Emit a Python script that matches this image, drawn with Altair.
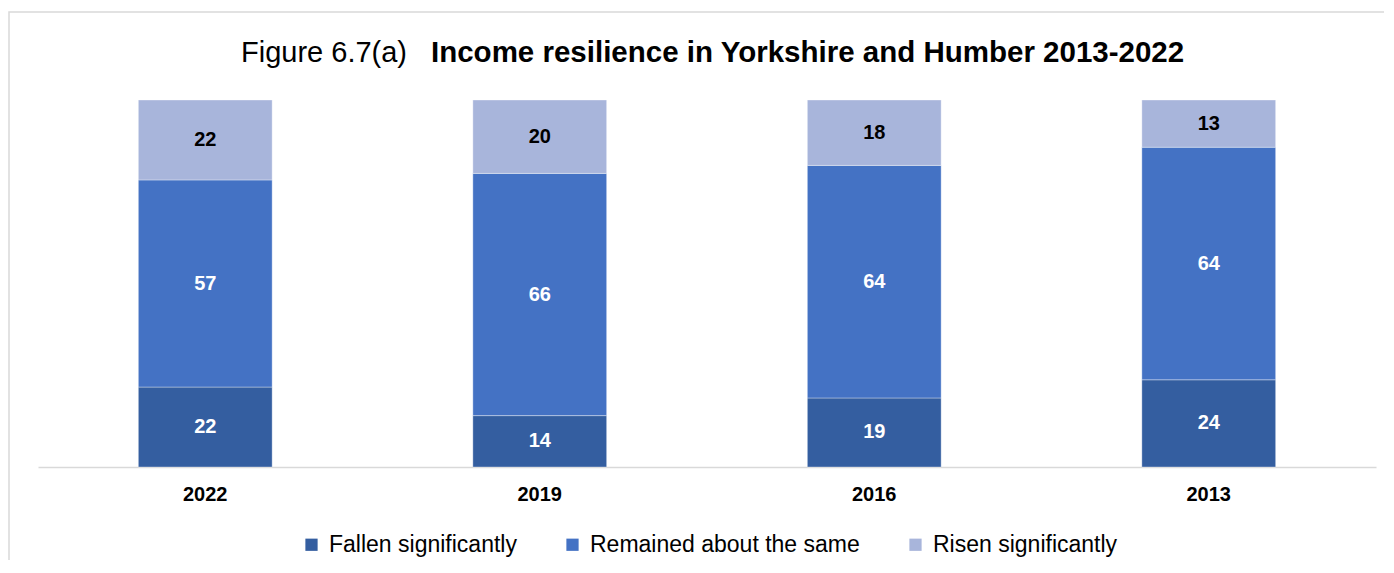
import altair as alt
import pandas as pd

years = ["2022", "2019", "2016", "2013"]
categories = ["Fallen significantly", "Remained about the same", "Risen significantly"]
fallen = [22, 14, 19, 24]
remained = [57, 66, 64, 64]
risen = [22, 20, 18, 13]
colors = ["#345ea0", "#4472c4", "#a8b5db"]
title_left = "Figure 6.7(a)"
title_right = "Income resilience in Yorkshire and Humber 2013-2022"

FONT = "Liberation Sans"

rows = []
for i, y in enumerate(years):
    for j, (cat, vals) in enumerate(zip(categories, [fallen, remained, risen])):
        rows.append({"year": y, "cat": cat, "order": j, "value": vals[i]})
df = pd.DataFrame(rows)

base = alt.Chart(df).transform_stack(
    stack="value",
    groupby=["year"],
    sort=[alt.SortField("order", order="ascending")],
    as_=["v0", "v1"],
    offset="normalize",
).transform_calculate(mid="(datum.v0 + datum.v1) / 2")

xenc = alt.X(
    "year:N",
    sort=years,
    title=None,
    scale=alt.Scale(paddingInner=0.6, paddingOuter=0.3),
    axis=alt.Axis(
        labelFont=FONT,
        labelFontWeight="bold",
        labelFontSize=20,
        labelColor="#000000",
        labelPadding=17,
        ticks=False,
        tickSize=0,
        domainColor="#d9d9d9",
        domainWidth=1.5,
        labelAngle=0,
    ),
)

bars = base.mark_bar(stroke="#ffffff", strokeWidth=1, strokeOpacity=0.35).encode(
    x=xenc,
    y=alt.Y("v0:Q", scale=alt.Scale(domain=[0, 1]), axis=None),
    y2="v1:Q",
    color=alt.Color(
        "cat:N",
        scale=alt.Scale(domain=categories, range=colors),
        legend=alt.Legend(
            title=None,
            orient="none",
            legendX=262,
            legendY=433,
            direction="horizontal",
            symbolType="square",
            symbolSize=150,
            symbolStrokeWidth=0,
            labelFont=FONT,
            labelFontSize=23,
            labelColor="#000000",
            labelOffset=6,
            labelLimit=0,
            columnPadding=44,
        ),
    ),
    order=alt.Order("order:Q"),
)

labels = base.mark_text(font=FONT, fontWeight="bold", fontSize=20, baseline="middle").encode(
    x=alt.X("year:N", sort=years),
    y=alt.Y("mid:Q", scale=alt.Scale(domain=[0, 1])),
    text="value:Q",
    color=alt.condition(
        alt.datum.cat == "Risen significantly", alt.value("#000000"), alt.value("#ffffff")
    ),
)

one = pd.DataFrame({"a": [title_left], "b": [title_right]})
border = alt.Chart(one).mark_rect(fillOpacity=0, stroke="#d9d9d9", strokeWidth=1.5).encode(
    x=alt.value(-29), y=alt.value(-88), x2=alt.value(1500), y2=alt.value(700)
)
t1 = alt.Chart(one).mark_text(font=FONT, fontSize=29, align="left", baseline="alphabetic", color="#000000").encode(
    x=alt.value(203), y=alt.value(-38), text="a:N"
)
t2 = alt.Chart(one).mark_text(font=FONT, fontSize=29.5, fontWeight="bold", align="left", baseline="alphabetic", color="#000000").encode(
    x=alt.value(393), y=alt.value(-38), text="b:N"
)

chart = alt.layer(border, bars, labels, t1, t2).properties(
    width=1338,
    height=367,
    padding={"left": 30, "top": 92, "right": 8, "bottom": 93},
    autosize=alt.AutoSizeParams(type="none"),
).configure(background="white").configure_view(strokeWidth=0, stroke="transparent")

chart.save("out.html", embed_options={"renderer": "svg", "actions": False})
